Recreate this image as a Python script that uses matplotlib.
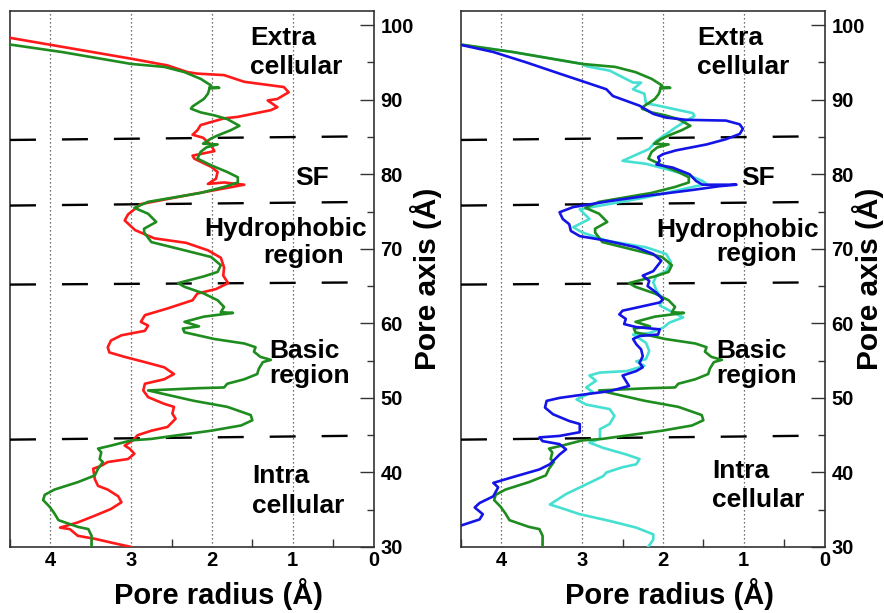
import numpy as np
import matplotlib
matplotlib.use("Agg")
import matplotlib.pyplot as plt
from matplotlib.ticker import MultipleLocator

# pore profiles: radius (A) vs position along pore axis (A)
red_r = [4.50, 3.00, 2.55, 2.30, 2.18, 1.85, 1.60, 1.11, 1.05, 1.19, 1.31, 1.19, 1.27, 1.68, 1.85,
         2.14, 2.18, 2.24, 2.11, 2.01, 1.97, 2.24, 2.22, 2.01, 1.93, 1.95, 2.05, 1.85, 1.60, 2.30,
         2.88, 3.04, 3.08, 2.95, 2.80, 2.71, 2.32, 2.05, 1.89, 1.85, 1.86, 1.80, 1.95, 2.18, 2.24,
         2.55, 2.83, 2.88, 2.79, 2.83, 3.12, 3.25, 3.29, 3.27, 3.08, 2.83, 2.59, 2.47, 2.59, 2.83,
         2.85, 2.79, 2.59, 2.47, 2.49, 2.45, 2.55, 2.75, 2.92, 2.98, 3.08, 3.02, 2.96, 3.04, 3.29,
         3.37, 3.47, 3.45, 3.41, 3.29, 3.16, 3.12, 3.25, 3.45, 3.66, 3.88, 3.76, 3.66, 3.45, 3.25,
         3.00]
red_z = [98.3, 95.5, 94.6, 93.7, 93.5, 93.3, 92.4, 91.7, 91.0, 90.1, 89.9, 89.0, 88.6, 87.7, 87.5,
         86.6, 85.9, 85.3, 84.9, 83.9, 83.1, 82.5, 82.1, 81.0, 80.3, 79.4, 78.7, 78.9, 78.6, 77.2,
         76.0, 74.6, 73.8, 72.5, 71.8, 71.4, 70.8, 69.8, 68.8, 67.5, 66.4, 65.4, 64.6, 64.0, 63.1,
         62.0, 61.1, 60.2, 59.7, 59.0, 58.4, 57.7, 56.8, 56.1, 55.5, 54.8, 54.1, 53.2, 52.5, 51.9,
         51.0, 50.1, 49.2, 48.8, 47.9, 47.2, 46.1, 45.6, 45.0, 44.3, 43.6, 43.2, 42.5, 41.8, 41.4,
         40.9, 40.5, 39.1, 38.2, 37.7, 36.8, 36.0, 35.1, 34.2, 33.3, 32.6, 32.4, 31.5, 31.1, 30.6,
         30.0]

green_r = [4.50, 3.86, 3.00, 2.59, 2.34, 2.14, 2.01, 2.03, 1.91, 2.03, 2.05, 2.10, 2.24, 2.26, 2.14,
           1.97, 1.81, 1.66, 1.77, 1.93, 2.01, 2.11, 1.93, 2.07, 2.14, 2.18, 2.01, 1.81, 1.68, 1.68,
           1.85, 2.14, 2.79, 2.96, 2.79, 2.69, 2.84, 2.84, 2.75, 2.34, 2.01, 1.89, 1.93, 2.10, 2.42,
           2.34, 2.10, 1.93, 1.85, 1.89, 1.74, 2.10, 2.34, 2.16, 2.36, 2.34, 1.97, 1.60, 1.46, 1.48,
           1.40, 1.27, 1.37, 1.42, 1.44, 1.60, 1.81, 1.85, 2.18, 2.79, 2.22, 1.81, 1.52, 1.50, 1.64,
           2.01, 2.42, 2.75, 3.00, 3.25, 3.41, 3.37, 3.39, 3.35, 3.41, 3.45, 3.66, 3.95, 4.07, 4.09,
           4.01, 3.95, 3.90, 3.66, 3.53, 3.49, 3.49, 3.49]
green_z = [97.4, 96.4, 94.8, 94.4, 93.7, 92.8, 91.9, 91.65, 91.6, 91.5, 90.8, 90.1, 89.1, 88.8, 88.3,
           87.9, 87.4, 86.5, 85.9, 85.2, 84.8, 84.1, 84.0, 83.6, 83.0, 82.1, 81.2, 80.3, 79.6, 78.9,
           78.3, 77.5, 76.3, 75.5, 74.7, 73.6, 72.7, 72.2, 70.9, 69.8, 68.9, 67.8, 66.9, 66.3, 65.4,
           64.9, 64.0, 63.1, 62.2, 61.5, 61.4, 60.9, 60.2, 59.6, 59.3, 58.8, 57.9, 57.3, 56.8, 56.2,
           55.5, 55.1, 54.8, 53.9, 53.2, 52.5, 51.9, 51.4, 51.3, 51.0, 49.6, 48.8, 47.7, 47.0, 46.3,
           45.6, 45.0, 44.5, 44.3, 43.6, 43.2, 42.7, 41.8, 41.4, 40.5, 39.6, 38.7, 37.7, 37.0, 36.3,
           35.4, 34.5, 33.6, 32.7, 32.4, 31.5, 30.6, 30.0]

blue_r = [4.52, 4.10, 3.69, 3.28, 3.03, 2.70, 2.62, 2.29, 2.12, 1.96, 1.71, 1.22, 1.05, 1.01, 1.05,
          1.22, 1.46, 1.84, 2.00, 2.06, 2.04, 2.08, 1.88, 1.67, 1.59, 1.51, 1.09, 1.30, 1.63, 2.21,
          2.66, 3.11, 3.28, 3.24, 3.16, 3.14, 3.03, 2.70, 2.33, 2.12, 2.02, 2.12, 2.25, 2.17, 2.19,
          2.08, 2.00, 2.04, 2.29, 2.50, 2.54, 2.46, 2.48, 2.33, 2.04, 2.06, 2.29, 2.37, 2.33, 2.27,
          2.25, 2.29, 2.25, 2.33, 2.50, 2.46, 2.42, 2.66, 2.95, 3.28, 3.44, 3.46, 3.36, 3.16, 3.03,
          3.03, 3.28, 3.53, 3.49, 3.28, 3.20, 3.28, 3.40, 3.53, 3.82, 4.10, 4.04, 4.10, 4.27, 4.33,
          4.23, 4.27, 4.55]
blue_z = [97.4, 96.4, 95.0, 93.5, 92.6, 91.4, 90.5, 89.2, 88.1, 87.6, 87.3, 87.2, 86.7, 86.1, 85.4,
          84.7, 84.0, 83.2, 82.7, 82.3, 81.8, 81.3, 80.9, 80.0, 79.1, 78.6, 78.6, 78.4, 77.9, 77.1,
          76.4, 75.6, 74.9, 74.0, 73.3, 72.4, 71.7, 71.1, 70.2, 69.3, 68.4, 67.0, 66.4, 65.7, 65.0,
          64.1, 63.2, 62.8, 62.2, 61.7, 61.2, 60.6, 59.9, 59.5, 59.2, 58.5, 58.3, 57.9, 57.2, 56.5,
          55.6, 54.7, 54.1, 53.6, 53.0, 52.3, 51.6, 50.9, 50.5, 50.0, 49.6, 48.7, 47.8, 46.9, 46.5,
          45.4, 44.9, 44.7, 44.2, 43.8, 43.1, 42.4, 41.1, 40.4, 39.5, 38.6, 38.0, 36.8, 35.9, 35.3,
          34.4, 33.7, 32.7]

cyan_r = [4.52, 3.86, 3.00, 2.95, 2.66, 2.37, 2.27, 2.37, 2.23, 2.21, 2.10, 1.63, 1.61, 1.71, 1.84,
          1.96, 2.08, 2.17, 2.50, 2.21, 1.96, 1.67, 1.51, 1.46, 1.55, 1.84, 2.21, 3.03, 2.91, 3.11,
          3.00, 2.70, 2.21, 1.96, 1.90, 1.96, 2.08, 2.12, 2.08, 2.00, 2.04, 1.88, 1.75, 1.92, 2.00,
          2.17, 2.37, 2.21, 2.17, 2.21, 2.33, 2.23, 2.45, 2.78, 2.91, 2.83, 2.95, 2.87, 3.07, 2.95,
          2.66, 2.60, 2.66, 2.78, 2.78, 2.91, 2.74, 2.45, 2.29, 2.33, 2.50, 2.70, 2.74, 2.95, 3.20,
          3.40, 3.28, 3.03, 2.66, 2.33, 2.12, 2.12, 2.19]
cyan_z = [97.4, 96.4, 94.8, 94.5, 93.9, 92.3, 92.3, 91.4, 90.8, 89.5, 89.3, 88.2, 87.8, 87.2, 86.3,
          85.4, 84.5, 83.4, 81.8, 81.4, 80.7, 79.8, 79.1, 78.7, 78.5, 77.8, 76.9, 75.3, 74.0, 72.9,
          72.2, 71.1, 70.2, 69.3, 68.2, 67.0, 66.4, 65.5, 64.4, 63.2, 62.4, 61.5, 60.8, 60.1, 59.4,
          58.7, 58.5, 57.4, 56.3, 55.2, 54.9, 54.3, 53.6, 53.4, 53.0, 52.3, 51.4, 50.8, 49.8, 49.1,
          48.5, 47.6, 46.5, 45.8, 44.5, 44.0, 43.3, 42.4, 41.8, 41.1, 40.7, 40.0, 39.5, 38.4, 37.1,
          35.7, 35.3, 34.4, 33.5, 32.6, 31.7, 31.0, 29.9]

# region boundaries (slightly tilted in the original: value at r=4.5 and at r=0)
sep_lo = [84.6, 75.8, 65.2, 44.4]
sep_hi = [85.1, 76.3, 65.5, 44.95]

# region labels: (text, r of left edge, z of baseline) for each panel
labels_left = [("Extra", 1.53, 97.4), ("cellular", 1.53, 93.4), ("SF", 0.97, 78.6),
               ("Hydrophobic", 2.09, 71.7), ("region", 1.37, 68.1),
               ("Basic", 1.29, 55.4), ("region", 1.29, 52.0),
               ("Intra", 1.50, 38.6), ("cellular", 1.50, 34.6)]
labels_right = [("Extra", 1.58, 97.4), ("cellular", 1.58, 93.4), ("SF", 1.03, 78.6),
                ("Hydrophobic", 2.08, 71.6), ("region", 1.34, 68.3),
                ("Basic", 1.34, 55.4), ("region", 1.34, 52.0),
                ("Intra", 1.39, 39.3), ("cellular", 1.39, 35.4)]

RED = "#ff1a1a"
GREEN = "#1e8c1e"
BLUE = "#1414e6"
CYAN = "#45e0d2"


def style_axes(ax, labels, ylabel_x):
    ax.set_xlim(4.5, 0)
    ax.set_ylim(30, 101.9)
    ax.set_xticks([0, 1, 2, 3, 4])
    ax.set_xticklabels(["0", "1", "2", "3", "4"])
    ax.xaxis.set_minor_locator(MultipleLocator(0.5))
    ax.set_yticks(np.arange(30, 101, 10))
    ax.yaxis.set_minor_locator(MultipleLocator(5))
    ax.yaxis.tick_right()
    ax.tick_params(axis="x", which="major", length=0, pad=3, labelsize=14.5)
    ax.tick_params(axis="x", which="minor", direction="in", length=6, width=1, color="#333333")
    ax.tick_params(axis="y", which="major", direction="in", length=10, width=1, pad=5,
                   labelsize=14.5, color="#333333")
    ax.tick_params(axis="y", which="minor", direction="in", length=5, width=1, color="#333333")
    ax.grid(axis="x", which="major", linestyle=(0, (1, 2.2)), color="#444444", lw=0.9)
    for s in ax.spines.values():
        s.set_linewidth(1.2)
        s.set_color("#333333")

    for lo, hi in zip(sep_lo, sep_hi):
        ax.plot([4.5, 0], [lo, hi], color="black", lw=1.7, dashes=(11, 11), zorder=3)

    for txt, r, z in labels:
        ax.text(r, z, txt, fontsize=19, fontweight="bold", ha="left", va="baseline", zorder=5)

    ax.set_xlabel("Pore radius (Å)", fontsize=21, fontweight="bold")
    ax.xaxis.set_label_coords(0.573, -0.106)
    ax.xaxis.label.set_va("baseline")
    ax.yaxis.set_label_position("right")
    ax.set_ylabel("Pore axis (Å)", fontsize=21.5, fontweight="bold")
    ax.yaxis.set_label_coords(ylabel_x, 0.5)
    ax.yaxis.label.set_va("center")


def main():
    plt.rcParams["font.family"] = ["Liberation Sans", "DejaVu Sans"]
    plt.rcParams["font.weight"] = "bold"

    fig = plt.figure(figsize=(8.84, 6.13), dpi=100)
    ax1 = fig.add_axes([10 / 884, 1 - 547 / 613, 363.5 / 884, 536 / 613])
    ax2 = fig.add_axes([461 / 884, 1 - 547 / 613, 363.5 / 884, 536 / 613])

    ax1.plot(red_r, red_z, color=RED, lw=1.9, zorder=4)
    ax1.plot(green_r, green_z, color=GREEN, lw=1.9, zorder=4)
    style_axes(ax1, labels_left, 1.144)

    ax2.plot(cyan_r, cyan_z, color=CYAN, lw=1.9, zorder=4)
    ax2.plot(green_r, green_z, color=GREEN, lw=1.9, zorder=4)
    ax2.plot(blue_r, blue_z, color=BLUE, lw=1.9, zorder=4)
    style_axes(ax2, labels_right, 1.12)

    fig.savefig("out.png", dpi=100)


if __name__ == "__main__":
    main()
